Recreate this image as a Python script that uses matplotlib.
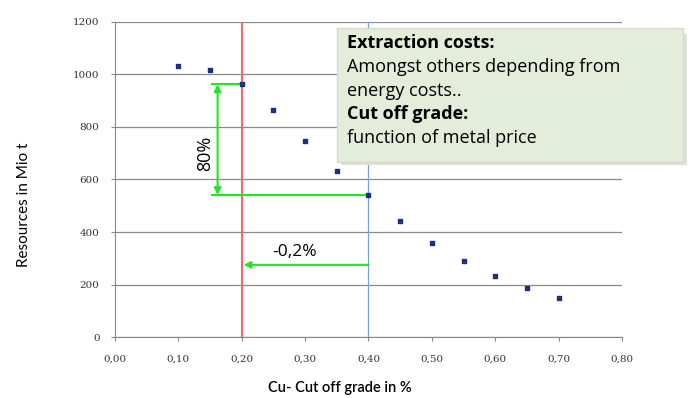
#!/usr/bin/env python3

import matplotlib
matplotlib.use("Agg")
import matplotlib.pyplot as plt
from matplotlib.patches import FancyBboxPatch

# cut off grade (%) vs resources (Mio t)
grade = [0.10, 0.15, 0.20, 0.25, 0.30, 0.35, 0.40, 0.45, 0.50, 0.55, 0.60, 0.65, 0.70]
resources = [1033, 1018, 962, 865, 748, 633, 541, 443, 358, 291, 233, 188, 150]

xticks = [0.0, 0.1, 0.2, 0.3, 0.4, 0.5, 0.6, 0.7, 0.8]
yticks = [0, 200, 400, 600, 800, 1000, 1200]

old_cut = 0.40
new_cut = 0.20
res_old = 541
res_new = 962

GREEN = "#22e622"


def main():
    plt.rcParams["font.family"] = ["Open Sans", "DejaVu Sans"]
    fig = plt.figure(figsize=(6.92, 3.98), dpi=100)
    ax = fig.add_axes([0.166, 0.153, 0.733, 0.792])

    ax.set_xlim(0, 0.8)
    ax.set_ylim(0, 1200)
    ax.set_xticks(xticks)
    ax.set_yticks(yticks)
    ax.set_xticklabels([("%.2f" % t).replace(".", ",") for t in xticks],
                       fontsize=7.5, family="DejaVu Serif", color="#333333")
    ax.set_yticklabels([str(t) for t in yticks], fontsize=7.5,
                       family="DejaVu Serif", color="#333333")
    ax.tick_params(axis="y", length=3, color="#888888", width=0.8, pad=8)
    ax.tick_params(axis="x", length=3, color="#888888", width=0.8, pad=10)

    for s in ("top", "right"):
        ax.spines[s].set_visible(False)
    for s in ("left", "bottom"):
        ax.spines[s].set_color("#888888")
    ax.yaxis.grid(True, color="#8a8a8a", linewidth=0.9)
    ax.set_axisbelow(True)

    ax.axvline(new_cut, color="#f06a6a", linewidth=1.5, zorder=2)
    ax.axvline(old_cut, color="#7f9fdc", linewidth=0.9, zorder=2)

    ax.scatter(grade, resources, s=9, marker="s", color="#1f2f80", zorder=4)

    # green guide lines
    ax.plot([0.153, new_cut], [res_new, res_new], color=GREEN, lw=1.5, zorder=3)
    ax.plot([0.153, old_cut], [res_old, res_old], color=GREEN, lw=1.5, zorder=3)
    ax.annotate("", xy=(0.162, res_new), xytext=(0.162, res_old),
                arrowprops=dict(arrowstyle="<|-|>", color=GREEN, lw=1.5,
                                mutation_scale=10, shrinkA=0, shrinkB=0))
    ax.text(0.143, 700, "80%", rotation=90, ha="center", va="center", fontsize=13)

    ax.annotate("", xy=(new_cut + 0.003, 275), xytext=(old_cut, 275),
                arrowprops=dict(arrowstyle="-|>", color=GREEN, lw=1.5,
                                mutation_scale=10, shrinkA=0, shrinkB=0))
    ax.text(0.283, 292, "-0,2%", ha="center", va="bottom", fontsize=12.5)

    ax.set_xlabel("Cu- Cut off grade in %", fontsize=10.5, fontweight="semibold",
                  family=["Lato", "DejaVu Sans"], va="center")
    ax.xaxis.set_label_coords(0.444, -0.162)
    ax.set_ylabel("Resources in Mio t", fontsize=11, family=["Lato", "DejaVu Sans"],
                  va="center")
    ax.yaxis.set_label_coords(-0.18, 0.42)

    # annotation box
    shadow = FancyBboxPatch((0.493, 0.585), 0.500, 0.33, boxstyle="square,pad=0",
                            transform=fig.transFigure, facecolor="#dde0d8",
                            edgecolor="none", zorder=5)
    box = FancyBboxPatch((0.487, 0.593), 0.500, 0.337, boxstyle="square,pad=0",
                         transform=fig.transFigure, facecolor="#e4edda",
                         edgecolor="#d3dbcb", zorder=6)
    fig.patches.extend([shadow, box])
    lines = [("Extraction costs:", "bold"),
             ("Amongst others depending from", "normal"),
             ("energy costs..", "normal"),
             ("Cut off grade:", "bold"),
             ("function of metal price", "normal")]
    y0 = 0.892
    for i, (txt, w) in enumerate(lines):
        fig.text(0.501, y0 - i * 0.0598, txt, fontsize=13, fontweight=w,
                 va="center", ha="left", zorder=7)

    fig.savefig("out.png", dpi=100)


if __name__ == "__main__":
    main()
